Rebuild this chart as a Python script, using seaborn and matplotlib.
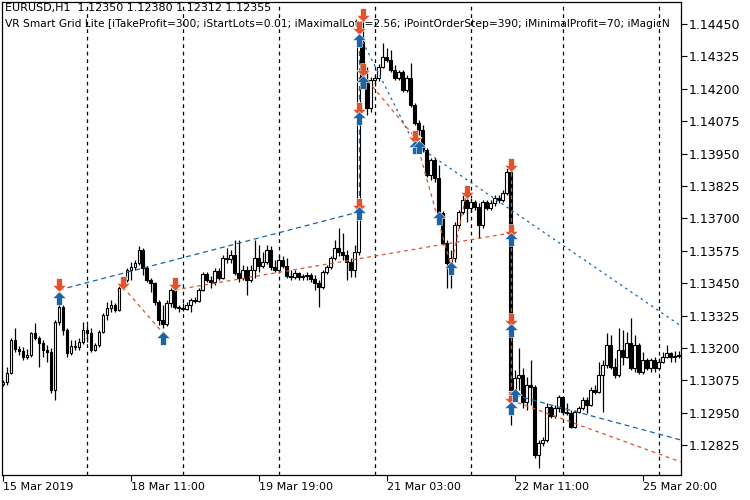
import numpy as np
import matplotlib
matplotlib.use("Agg")
import matplotlib.pyplot as plt
from matplotlib.path import Path
import seaborn as sns

# EURUSD H1 bars, 15 Mar 2019 03:00 onwards (index = bar number)
first_open = 1.13061
closes = [
    1.13068, 1.13103, 1.13231, 1.13196, 1.13188, 1.13165, 1.13173, 1.13258, 1.13238, 1.13219,
    1.13192, 1.13184, 1.13038, 1.13300, 1.13358, 1.13269, 1.13180, 1.13207, 1.13204, 1.13223,
    1.13269, 1.13258, 1.13192, 1.13211, 1.13261, 1.13327, 1.13354, 1.13366, 1.13346, 1.13431,
    1.13462, 1.13501, 1.13512, 1.13528, 1.13578, 1.13509, 1.13462, 1.13451, 1.13377, 1.13308,
    1.13292, 1.13373, 1.13424, 1.13358, 1.13354, 1.13350, 1.13366, 1.13385, 1.13381, 1.13424,
    1.13485, 1.13462, 1.13454, 1.13497, 1.13470, 1.13547, 1.13543, 1.13559, 1.13489, 1.13470,
    1.13501, 1.13462, 1.13501, 1.13547, 1.13516, 1.13532, 1.13578, 1.13512, 1.13501, 1.13539,
    1.13516, 1.13478, 1.13474, 1.13489, 1.13474, 1.13478, 1.13481, 1.13466, 1.13451, 1.13435,
    1.13493, 1.13512, 1.13547, 1.13586, 1.13570, 1.13559, 1.13532, 1.13501, 1.13570, 1.14381,
    1.14234, 1.14126, 1.14234, 1.14242, 1.14284, 1.14323, 1.14311, 1.14273, 1.14242, 1.14265,
    1.14196, 1.14242, 1.14138, 1.14068, 1.14041, 1.13964, 1.13868, 1.13925, 1.13856, 1.13721,
    1.13605, 1.13528, 1.13547, 1.13675, 1.13725, 1.13771, 1.13740, 1.13763, 1.13744, 1.13675,
    1.13763, 1.13740, 1.13759, 1.13779, 1.13771, 1.13798, 1.13879, 1.13038, 1.13084, 1.13096,
    1.12991, 1.13057, 1.13049, 1.12787, 1.12833, 1.12845, 1.12972, 1.12937, 1.12968, 1.13011,
    1.12953, 1.12949, 1.12895, 1.12953, 1.12968, 1.12999, 1.12980, 1.13038, 1.13030, 1.13096,
    1.13134, 1.13211, 1.13126, 1.13096, 1.13192, 1.13165, 1.13219, 1.13123, 1.13211, 1.13107,
    1.13153, 1.13123, 1.13153, 1.13123, 1.13146, 1.13165, 1.13180, 1.13165, 1.13169, 1.13173,
]
highs = [
    1.13076, 1.13126, 1.13238, 1.13277, 1.13207, 1.13204, 1.13196, 1.13261, 1.13296, 1.13246,
    1.13231, 1.13211, 1.13200, 1.13308, 1.13385, 1.13366, 1.13277, 1.13231, 1.13231, 1.13238,
    1.13300, 1.13289, 1.13277, 1.13219, 1.13269, 1.13335, 1.13377, 1.13385, 1.13373, 1.13439,
    1.13470, 1.13509, 1.13532, 1.13539, 1.13593, 1.13586, 1.13516, 1.13470, 1.13454, 1.13385,
    1.13366, 1.13385, 1.13431, 1.13427, 1.13366, 1.13373, 1.13377, 1.13393, 1.13397, 1.13431,
    1.13493, 1.13493, 1.13478, 1.13509, 1.13509, 1.13559, 1.13586, 1.13578, 1.13617, 1.13617,
    1.13520, 1.13516, 1.13520, 1.13617, 1.13597, 1.13570, 1.13597, 1.13593, 1.13539, 1.13559,
    1.13555, 1.13547, 1.13501, 1.13501, 1.13493, 1.13485, 1.13493, 1.13489, 1.13481, 1.13462,
    1.13501, 1.13520, 1.13555, 1.13617, 1.13663, 1.13644, 1.13578, 1.13547, 1.13597, 1.14396,
    1.14489, 1.14284, 1.14246, 1.14254, 1.14296, 1.14377, 1.14358, 1.14350, 1.14292, 1.14273,
    1.14273, 1.14254, 1.14300, 1.14145, 1.14080, 1.14061, 1.13972, 1.13933, 1.13933, 1.13906,
    1.13729, 1.13617, 1.13578, 1.13686, 1.13732, 1.13790, 1.13779, 1.13779, 1.13771, 1.13759,
    1.13771, 1.13771, 1.13771, 1.13790, 1.13790, 1.13810, 1.13895, 1.13895, 1.13115, 1.13200,
    1.13123, 1.13088, 1.13153, 1.13057, 1.12845, 1.12856, 1.12987, 1.12980, 1.12980, 1.13018,
    1.13014, 1.12987, 1.12960, 1.12960, 1.12976, 1.13011, 1.13011, 1.13049, 1.13057, 1.13146,
    1.13153, 1.13258, 1.13250, 1.13161, 1.13277, 1.13269, 1.13261, 1.13316, 1.13250, 1.13219,
    1.13184, 1.13161, 1.13161, 1.13165, 1.13161, 1.13184, 1.13211, 1.13184, 1.13188, 1.13188,
]
lows = [
    1.13053, 1.13057, 1.13099, 1.13184, 1.13173, 1.13153, 1.13157, 1.13165, 1.13231, 1.13126,
    1.13165, 1.13146, 1.13026, 1.12999, 1.13289, 1.13250, 1.13165, 1.13173, 1.13192, 1.13192,
    1.13215, 1.13223, 1.13184, 1.13188, 1.13204, 1.13258, 1.13308, 1.13339, 1.13339, 1.13343,
    1.13424, 1.13454, 1.13462, 1.13501, 1.13520, 1.13481, 1.13454, 1.13416, 1.13366, 1.13289,
    1.13277, 1.13285, 1.13358, 1.13350, 1.13339, 1.13343, 1.13346, 1.13339, 1.13373, 1.13377,
    1.13420, 1.13454, 1.13431, 1.13443, 1.13462, 1.13466, 1.13528, 1.13528, 1.13481, 1.13454,
    1.13462, 1.13404, 1.13454, 1.13470, 1.13493, 1.13509, 1.13524, 1.13501, 1.13493, 1.13489,
    1.13509, 1.13470, 1.13462, 1.13466, 1.13462, 1.13462, 1.13462, 1.13454, 1.13424, 1.13358,
    1.13427, 1.13485, 1.13505, 1.13539, 1.13555, 1.13539, 1.13462, 1.13474, 1.13474, 1.13559,
    1.14219, 1.14099, 1.14111, 1.14211, 1.14230, 1.14281, 1.14304, 1.14265, 1.14234, 1.14234,
    1.14188, 1.14188, 1.14130, 1.14061, 1.14022, 1.13956, 1.13860, 1.13848, 1.13840, 1.13713,
    1.13597, 1.13431, 1.13431, 1.13532, 1.13663, 1.13717, 1.13686, 1.13725, 1.13732, 1.13624,
    1.13663, 1.13732, 1.13732, 1.13748, 1.13759, 1.13763, 1.13790, 1.12903, 1.13018, 1.13038,
    1.12968, 1.12960, 1.12980, 1.12775, 1.12737, 1.12821, 1.12837, 1.12930, 1.12930, 1.12953,
    1.12945, 1.12941, 1.12891, 1.12891, 1.12949, 1.12960, 1.12949, 1.12976, 1.13022, 1.13026,
    1.12953, 1.13123, 1.13119, 1.13084, 1.13088, 1.13134, 1.13161, 1.13115, 1.13107, 1.13099,
    1.13099, 1.13115, 1.13107, 1.13107, 1.13115, 1.13142, 1.13161, 1.13146, 1.13146, 1.13161,
]

# day separators (first bar of each day) and time axis labels
day_starts = [21, 45, 69, 93, 117, 140, 164]
time_tick_bars = [0, 32, 64, 96, 128, 160]
time_tick_labels = ["15 Mar 2019", "18 Mar 11:00", "19 Mar 19:00",
                    "21 Mar 03:00", "22 Mar 11:00", "25 Mar 20:00"]
price_ticks = [1.12825, 1.12950, 1.13075, 1.13200, 1.13325, 1.13450, 1.13575,
               1.13700, 1.13825, 1.13950, 1.14075, 1.14200, 1.14325, 1.14450]

# EA trades: arrows (bar, price)
sell_bars = [14, 30, 43, 89, 90, 90, 89, 89, 103, 116, 127, 127, 127, 127]
sell_prices = [1.13443, 1.13451, 1.13447, 1.14435, 1.14485, 1.14273, 1.14122,
               1.13752, 1.14014, 1.13802, 1.13906, 1.13651, 1.13308, 1.13007]
buy_bars = [14, 40, 89, 89, 90, 89, 103, 104, 109, 112, 127, 127, 128, 127]
buy_prices = [1.13393, 1.13238, 1.13721, 1.14088, 1.14226, 1.14389, 1.13976,
              1.13976, 1.13702, 1.13509, 1.13620, 1.13269, 1.13018, 1.12968]

# trade connection lines: (bar_from, price_from, bar_to, price_to, kind)
trade_lines = [
    (14, 1.13424, 89, 1.13725, "buy"),
    (30, 1.13435, 40, 1.13258, "sell"),
    (43, 1.13424, 127, 1.13644, "sell"),
    (90, 1.14381, 103, 1.13983, "buy_dot"),
    (90, 1.14254, 103, 1.14014, "sell"),
    (104, 1.13976, 169.6, 1.13285, "buy_dot"),
    (104, 1.13964, 112, 1.13520, "sell"),
    (112, 1.13509, 116, 1.13802, "sell"),
    (127, 1.12999, 169.6, 1.12760, "sell"),
    (128, 1.13018, 169.6, 1.12845, "buy"),
    (89, 1.13721, 89, 1.14389, "buy"),
    (127, 1.13906, 127, 1.13007, "sell"),
]

# header lines as shown (second one is cut by the price scale in the terminal)
header_1 = "EURUSD,H1  1.12350 1.12380 1.12312 1.12355"
header_2 = ("VR Smart Grid Lite [iTakeProfit=300; iStartLots=0.01; iMaximalLots=2.56; "
            "iPointOrderStep=390; iMinimalProfit=70; iMagicN")

BLUE = "#1c64a8"
ORANGE = "#e0532b"

sns.set_theme(style="white")
plt.rcParams["font.family"] = ["DejaVu Sans"]

fig = plt.figure(figsize=(7.5, 5), dpi=100)
ax = fig.add_axes([0.0027, 0.05, 0.9053, 0.946])

n = len(closes)
x = np.arange(n)
opens = np.array([first_open] + closes[:-1])
c = np.array(closes)
hi = np.maximum(np.array(highs), np.maximum(opens, c))
lo = np.minimum(np.array(lows), np.minimum(opens, c))

# period separators
for d in day_starts:
    ax.axvline(d, color="black", lw=0.9, ls=(0, (3, 3)), zorder=1)

# wicks and bodies
ax.vlines(x, lo, hi, color="black", lw=0.9, zorder=2)
up = c >= opens
body_h = np.where(np.abs(c - opens) < 0.00002, 0.00002, c - opens)
ax.bar(x[up], body_h[up], bottom=opens[up], width=0.72, color="white",
       edgecolor="black", linewidth=0.8, zorder=3)
ax.bar(x[~up], body_h[~up], bottom=opens[~up], width=0.72, color="black",
       edgecolor="black", linewidth=0.8, zorder=3)

# trade lines
styles = {"buy": (BLUE, (0, (4, 3))), "buy_dot": (BLUE, (0, (2, 3))),
          "sell": (ORANGE, (0, (3, 3)))}
for b0, p0, b1, p1, kind in trade_lines:
    col, ls = styles[kind]
    ax.plot([b0, b1], [p0, p1], color=col, lw=0.9, ls=ls, zorder=4)

# arrow markers
up_arrow = Path([(0, 1), (1, 0), (0.42, 0), (0.42, -1), (-0.42, -1), (-0.42, 0), (-1, 0), (0, 1)],
                [Path.MOVETO] + [Path.LINETO] * 6 + [Path.CLOSEPOLY])
down_arrow = Path([(0, -1), (1, 0), (0.42, 0), (0.42, 1), (-0.42, 1), (-0.42, 0), (-1, 0), (0, -1)],
                  [Path.MOVETO] + [Path.LINETO] * 6 + [Path.CLOSEPOLY])
sns.scatterplot(x=sell_bars, y=sell_prices, marker=down_arrow, s=95, color=ORANGE,
                edgecolor="white", linewidth=0.4, ax=ax, zorder=6)
sns.scatterplot(x=buy_bars, y=buy_prices, marker=up_arrow, s=95, color=BLUE,
                edgecolor="white", linewidth=0.4, ax=ax, zorder=6)

ax.set_xlim(-0.25, 169.6)
ax.set_ylim(1.12710, 1.14535)

# axes styling (MetaTrader look)
for sp in ax.spines.values():
    sp.set_color("black")
    sp.set_linewidth(0.9)
    sp.set_visible(True)
ax.grid(False)
ax.yaxis.tick_right()
ax.set_yticks(price_ticks)
ax.set_yticklabels([f"{p:.5f}" for p in price_ticks])
ax.set_xticks(time_tick_bars)
ax.set_xticklabels(time_tick_labels)
for lab in ax.get_xticklabels():
    lab.set_horizontalalignment("left")
ax.tick_params(axis="y", which="both", right=True, left=False, length=4, width=0.8,
               direction="out", pad=1.5, labelsize=9, colors="black")
ax.tick_params(axis="x", which="both", bottom=True, length=4, width=0.8,
               direction="out", pad=1, labelsize=8, colors="black")

ax.text(0.004, 0.988, header_1, transform=ax.transAxes, fontsize=8, va="center",
        ha="left", color="black", zorder=5)
ax.text(0.004, 0.953, header_2, transform=ax.transAxes, fontsize=7.7, va="center",
        ha="left", color="black", zorder=5)

fig.savefig("out.png", dpi=100, facecolor="white")
